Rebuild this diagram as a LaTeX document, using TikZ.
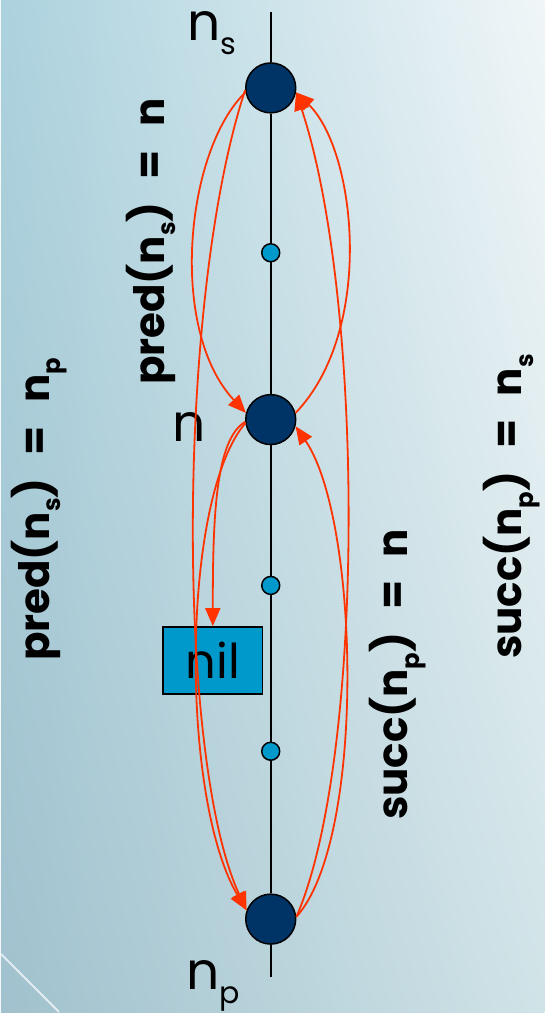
\documentclass[tikz,border=0pt]{standalone}
\usepackage{fontspec}
\usepackage{graphicx}
\setmainfont{Poppins}
\usetikzlibrary{arrows.meta, shadings}

\definecolor{navy}{HTML}{003366}
\definecolor{nilblue}{HTML}{0099CC}
\definecolor{arcred}{HTML}{FF3300}
\definecolor{bgul}{RGB}{172,210,222}
\definecolor{bgur}{RGB}{240,246,248}
\definecolor{bgll}{RGB}{160,193,205}
\definecolor{bglr}{RGB}{208,227,231}

% lowered subscript, as on the slide
\newcommand\lowsub[1]{\raisebox{-0.27em}{\scalebox{0.58}{#1}}}
\newcommand\eqgap{\hspace{0.55em}}

\begin{document}
\begin{tikzpicture}[x=1pt, y=-1pt,
  peer/.style={circle, draw=black, line width=1.5pt, fill=navy,
    minimum size=50pt, inner sep=0pt},
  hop/.style={circle, draw=black, line width=1.5pt, fill=nilblue,
    minimum size=18pt, inner sep=0pt},
  nilbox/.style={rectangle, draw=black, line width=1.5pt, fill=nilblue,
    minimum width=100pt, minimum height=67pt, inner sep=0pt,
    font=\fontsize{48}{50}\selectfont},
  lbl/.style={font=\fontsize{52}{56}\selectfont, inner sep=0pt},
  eqn/.style={font=\bfseries\fontsize{42}{46}\selectfont, rotate=90, inner sep=0pt},
  ptr/.style={draw=arcred, line width=1.8pt,
    -{Triangle[length=18pt, width=15pt]}},
]

% Background
\shade[upper left=bgul, upper right=bgur, lower left=bgll, lower right=bglr]
  (0,0) rectangle (544,1013);
\draw[white, opacity=0.7, line width=2pt] (0,955) -- (58,1013);

% Ring segment
\coordinate (top) at (270,12);
\coordinate (bot) at (270,978);
\node[peer] (ns) at (270,88) {};
\node[peer] (n) at (270,420) {};
\node[peer] (np) at (270,920) {};
\node[hop] (h1) at (270,253) {};
\node[hop] (h2) at (270,586) {};
\node[hop] (h3) at (270,752) {};
\draw[line width=2pt] (top) -- (ns) -- (h1) -- (n) -- (h2) -- (h3) -- (np) -- (bot);

\node[nilbox] (nil) at (212,661) {nil};

% Node labels
\node[lbl, anchor=base west] (lns) at (186,41) {n\lowsub{s}};
\node[lbl, anchor=base west] (ln) at (171,442) {n};
\node[lbl, anchor=base west] (lnp) at (185,990) {n\lowsub{p}};

% Pointer equations
\node[eqn] (e1) at (150,242) {pred(n\lowsub{s})\eqgap=\eqgap n};
\node[eqn] (e2) at (38,510) {pred(n\lowsub{s})\eqgap=\eqgap n\lowsub{p}};
\node[eqn] (e3) at (397,675) {succ(n\lowsub{p})\eqgap=\eqgap n};
\node[eqn] (e4) at (511,507) {succ(n\lowsub{p})\eqgap=\eqgap n\lowsub{s}};

% Left pointers
\draw[ptr] (ns.190) .. controls +(-60,58) and +(-78,-83.5) .. (n.165);
\draw[ptr] (ns.185) .. controls +(-69,210) and +(-70,-151) .. (np.160);
\draw[ptr] (n.185) .. controls +(-30,18) and +(0,-107) .. (nil.north);
\draw[ptr] (n.188) .. controls +(-65,77) and +(-66,-111) .. (np.160);

% Right pointers
\draw[ptr] (np.5) .. controls +(70,-78) and +(64,93.5) .. (n.-15);
\draw[ptr] (np.5) .. controls +(69,-158) and +(69,208) .. (ns.-10);
\draw[ptr] (n.15) .. controls +(80,-83.5) and +(60,58) .. (ns.-10);

\end{tikzpicture}
\end{document}
